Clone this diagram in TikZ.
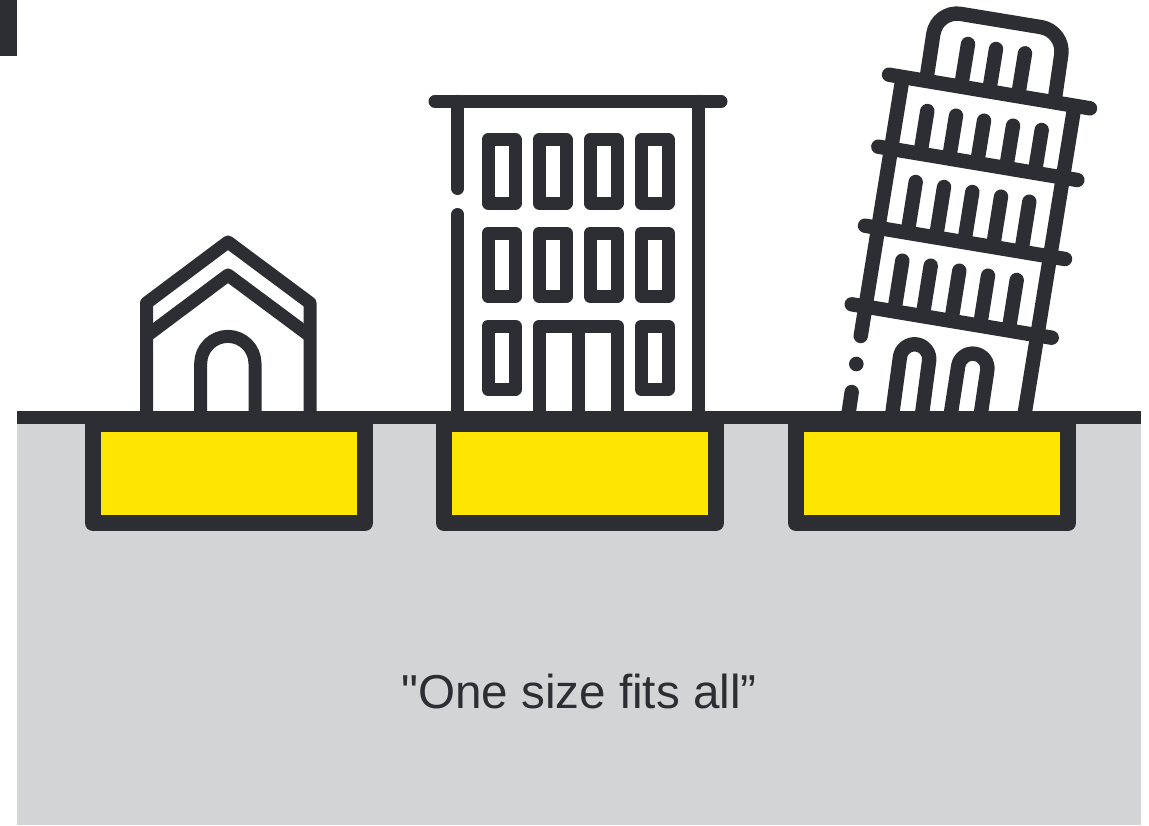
\documentclass[tikz,border=0pt]{standalone}
\usepackage{fontspec}
\setmainfont{Liberation Sans}[Ligatures=TeXOff]
\definecolor{inkdark}{HTML}{2D2E33}
\definecolor{soilgray}{HTML}{D3D4D6}
\definecolor{slabyellow}{HTML}{FFE600}

\begin{document}
\begin{tikzpicture}[
  x=0.75pt,y=-0.75pt,
  outline/.style={draw=inkdark,line width=9.75pt,line cap=round,line join=round},
  flatline/.style={draw=inkdark,line width=9.75pt,line cap=butt,line join=round},
  towerline/.style={draw=inkdark,line width=10.8pt,line cap=round,line join=round},
  towerflat/.style={draw=inkdark,line width=10.8pt,line cap=butt,line join=round},
  footing/.style={draw=inkdark,fill=slabyellow,line width=12pt,line join=round},
  caption/.style={font=\fontsize{35.7pt}{40pt}\selectfont,text=inkdark}
]
\useasboundingbox (0,0) rectangle (1149,825);

% -------------------------------------------------------------------------
% Ground and footings
% -------------------------------------------------------------------------
\fill[inkdark] (0,0) rectangle (17,56);
\fill[soilgray] (17,417) rectangle (1141,825);
\foreach \fx in {93,444,796}
  {\draw[footing] (\fx,424) rectangle +(272,99);}

% -------------------------------------------------------------------------
% House
% -------------------------------------------------------------------------
\draw[flatline] (146.5,415) -- (146.5,303) -- (228,242) -- (310,303) -- (310,415);
\draw[flatline] (146.5,336) -- (228,275) -- (310,336);
\draw[flatline] (200.7,415) -- (200.7,363.5) arc[start angle=180,end angle=360,radius=27.15] -- (255,415);

% -------------------------------------------------------------------------
% Office block
% -------------------------------------------------------------------------
\draw[outline] (435,101.3) -- (721,101.3);
\draw[outline] (457.7,101.3) -- (457.7,188.5);
\draw[outline] (457.7,214.5) -- (457.7,415);
\draw[outline] (698.7,101.3) -- (698.7,415);
\foreach \wx in {488,539,590,641}
  \foreach \wy in {139.7,233}
    {\draw[outline] (\wx,\wy) rectangle +(27.3,63.4);}
\foreach \wx in {488,641}
  {\draw[outline] (\wx,326) rectangle +(27.3,63.4);}
\draw[flatline] (539,415) -- (539,326) -- (617.3,326) -- (617.3,415);
\draw[flatline] (578.3,326) -- (578.3,415);

% -------------------------------------------------------------------------
% Leaning tower
% -------------------------------------------------------------------------
\draw[towerflat,rounded corners=18pt] (926.3,80) -- (937,10) -- (1064.7,31) -- (1054.7,100);
\foreach \ax/\ay/\bx/\by in {889/74.7/1090/108.3,878.3/146.7/1077.3/180,865/225.7/1065/259,851.7/304.3/1051.7/337.7}
  {\draw[towerline] (\ax,\ay) -- (\bx,\by);}
\draw[towerline] (902.4,79) -- (860.7,336);
\draw[towerline] (851.7,392) -- (848.3,415);
\fill[inkdark] (856.3,364) circle[radius=7.3];
\draw[towerflat] (1074.5,106) -- (1024.4,415);
\foreach \cx/\cy in {968/44,996/49,1025/53.3}
  {\draw[towerline] (\cx,\cy) -- +(-6.5,40);}
\foreach \cx/\cy in {927.3/111,956/115.7,984/120.7,1013/125.7,1041.7/130}
  {\draw[towerline] (\cx,\cy) -- +(-6.5,40);}
\foreach \cx/\cy in {915.7/182,944/187,972.3/192,1001/196.7,1029.3/201.7}
  {\draw[towerline] (\cx,\cy) -- +(-7.5,47);}
\foreach \cx/\cy in {902.3/260.7,930.7/265.7,959.3/270.7,988/275.7,1016.7/280}
  {\draw[towerline] (\cx,\cy) -- +(-7.5,47);}
\draw[towerflat] (892.1,415) -- (900,356.7) arc[start angle=189,end angle=369,radius=14.7] -- (921.9,415);
\draw[towerflat] (950.6,415) -- (958.2,366) arc[start angle=189,end angle=369,radius=14.7] -- (980.6,415);

% -------------------------------------------------------------------------
% Ground line and caption
% -------------------------------------------------------------------------
\fill[inkdark] (17,411) rectangle (1141,424);
\node[caption] (motto) at (579,691) {"One size fits all”};
\end{tikzpicture}
\end{document}
